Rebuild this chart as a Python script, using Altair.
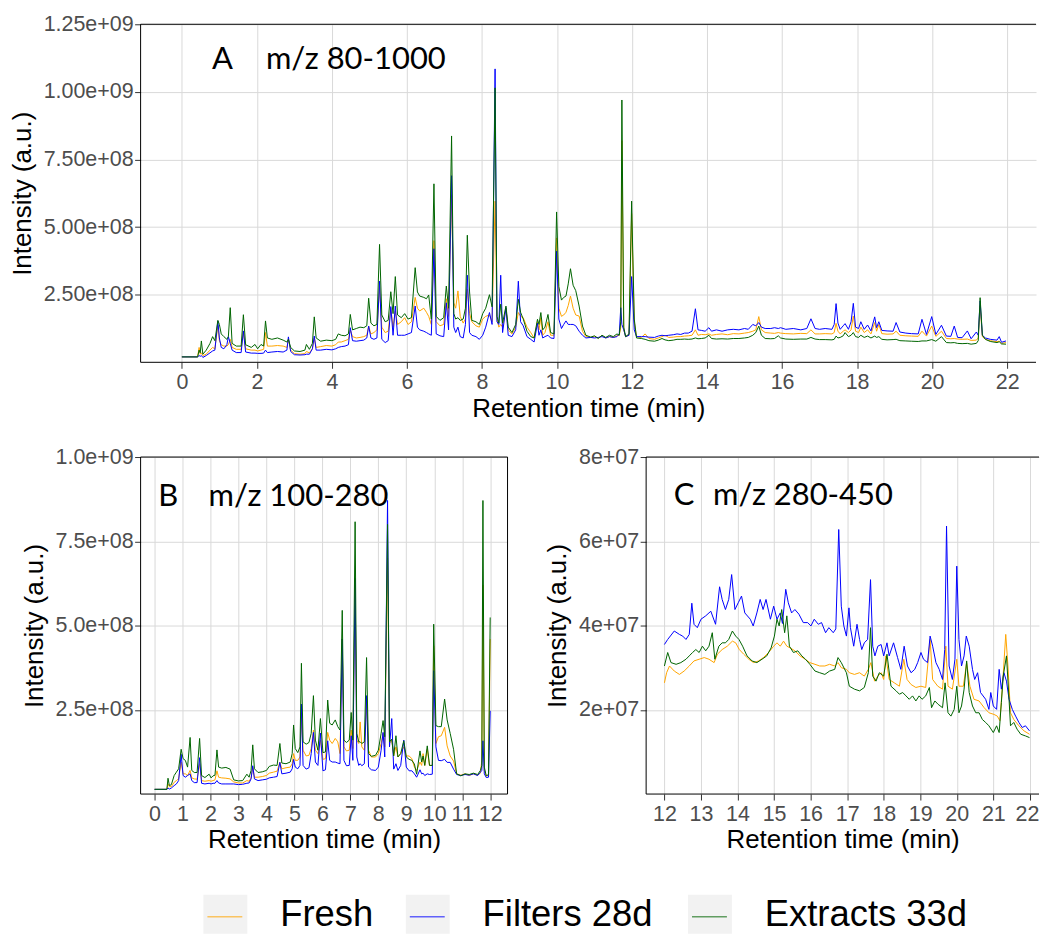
import altair as alt
import pandas as pd

SERIES = ["Fresh", "Filters 28d", "Extracts 33d"]
SERIES_COLORS = ["#FFA500", "#0000FF", "#006400"]

# ---------------------------------------------------------------------------
# Panel A: m/z 80-1000, retention time (min) and intensity (x 1e8)
# ---------------------------------------------------------------------------
a_time = [
    0.00, 0.42, 0.46, 0.49, 0.52, 0.56, 0.65, 0.75, 0.82, 0.88,
    0.96, 1.00, 1.05, 1.12, 1.20, 1.24, 1.29, 1.34, 1.45, 1.58,
    1.64, 1.70, 1.85, 1.95, 2.02, 2.11, 2.18, 2.23, 2.28, 2.40,
    2.55, 2.70, 2.80, 2.84, 2.90, 3.00, 3.15, 3.28, 3.32, 3.40,
    3.48, 3.53, 3.58, 3.70, 3.85, 4.00, 4.10, 4.17, 4.25, 4.35,
    4.44, 4.49, 4.55, 4.65, 4.75, 4.85, 4.93, 4.98, 5.04, 5.12,
    5.20, 5.27, 5.33, 5.42, 5.50, 5.57, 5.63, 5.69, 5.75, 5.85,
    5.94, 6.03, 6.12, 6.22, 6.28, 6.34, 6.45, 6.52, 6.58, 6.65,
    6.72, 6.78, 6.88, 6.98, 7.05, 7.11, 7.19, 7.25, 7.30, 7.36,
    7.42, 7.50, 7.56, 7.61, 7.67, 7.73, 7.84, 7.93, 8.02, 8.10,
    8.20, 8.27, 8.35, 8.40, 8.45, 8.50, 8.55, 8.64, 8.70, 8.80,
    8.90, 8.97, 9.03, 9.10, 9.20, 9.30, 9.39, 9.48, 9.52, 9.57,
    9.62, 9.68, 9.76, 9.83, 9.92, 9.99, 10.05, 10.12, 10.18, 10.24,
    10.30, 10.36, 10.43, 10.50, 10.59, 10.68, 10.77, 10.90, 11.00, 11.10,
    11.20, 11.30, 11.40, 11.50, 11.60, 11.66, 11.70, 11.73, 11.78, 11.83,
    11.92, 11.99, 12.06, 12.12, 12.25, 12.35, 12.45, 12.60, 12.70, 12.80,
    12.88, 12.98, 13.10, 13.20, 13.30, 13.40, 13.50, 13.60, 13.69, 13.76,
    13.85, 13.95, 14.05, 14.12, 14.25, 14.40, 14.55, 14.70, 14.85, 15.00,
    15.10, 15.22, 15.30, 15.38, 15.45, 15.55, 15.70, 15.80, 15.90, 15.96,
    16.10, 16.30, 16.50, 16.66, 16.77, 16.88, 17.00, 17.15, 17.33, 17.39,
    17.44, 17.49, 17.55, 17.63, 17.68, 17.77, 17.84, 17.90, 17.96, 18.04,
    18.10, 18.19, 18.28, 18.37, 18.47, 18.52, 18.58, 18.66, 18.80, 18.96,
    19.04, 19.14, 19.30, 19.45, 19.63, 19.73, 19.85, 19.99, 20.10, 20.25,
    20.38, 20.50, 20.59, 20.68, 20.80, 20.94, 21.04, 21.18, 21.23, 21.28,
    21.34, 21.42, 21.55, 21.73, 21.79, 21.85, 21.97,
]
a_fresh = [
    0.20, 0.20, 0.55, 0.30, 0.35, 0.25, 0.30, 0.45, 0.55, 0.50,
    1.35, 0.80, 0.65, 0.60, 0.60, 0.65, 0.85, 0.55, 0.48, 0.48,
    1.15, 0.50, 0.45, 0.45, 0.42, 0.45, 0.48, 1.10, 0.60, 0.60,
    0.62, 0.60, 0.55, 0.85, 0.45, 0.32, 0.30, 0.32, 0.40, 0.35,
    0.50, 0.90, 0.55, 0.58, 0.62, 0.60, 0.65, 0.75, 0.75, 0.80,
    0.85, 1.20, 0.95, 0.90, 0.92, 0.95, 1.00, 1.34, 1.05, 1.10,
    1.20, 2.80, 1.30, 1.10, 1.15, 2.00, 1.30, 1.90, 1.40, 1.50,
    1.65, 1.40, 1.50, 2.40, 2.00, 1.90, 2.00, 1.85, 1.70, 1.40,
    4.50, 1.50, 1.35, 1.40, 2.35, 1.70, 6.20, 2.20, 2.00, 2.64,
    1.70, 1.45, 1.60, 2.70, 1.80, 1.50, 1.35, 1.30, 1.60, 1.70,
    1.75, 1.50, 5.96, 1.60, 1.30, 1.40, 1.30, 2.00, 1.20, 1.05,
    1.30, 1.84, 1.70, 1.65, 1.30, 1.10, 0.90, 1.50, 1.20, 1.65,
    1.00, 1.10, 1.50, 1.00, 1.00, 4.60, 2.00, 1.70, 1.75, 1.85,
    2.10, 2.45, 2.00, 1.75, 1.71, 1.15, 0.95, 0.92, 0.95, 0.90,
    0.98, 0.90, 0.95, 0.92, 0.98, 1.00, 1.30, 8.20, 1.20, 0.95,
    1.00, 5.50, 1.50, 0.95, 0.92, 1.05, 0.88, 0.85, 0.90, 0.95,
    1.00, 0.92, 0.93, 0.95, 0.95, 0.97, 0.98, 1.00, 1.20, 1.00,
    1.03, 1.02, 1.05, 1.00, 1.03, 1.05, 1.02, 1.06, 1.05, 1.08,
    1.10, 1.15, 1.20, 1.69, 1.20, 1.10, 1.08, 1.07, 1.10, 1.08,
    1.06, 1.05, 1.07, 1.06, 1.20, 1.05, 1.05, 1.06, 1.05, 1.10,
    1.44, 1.15, 1.05, 1.15, 1.20, 1.10, 1.20, 1.71, 1.15, 1.10,
    1.30, 1.10, 1.20, 1.05, 1.47, 1.15, 1.40, 1.06, 1.04, 1.05,
    1.15, 1.00, 0.98, 0.97, 0.96, 1.15, 0.97, 1.34, 0.96, 1.15,
    0.88, 0.87, 0.88, 0.86, 0.85, 0.86, 0.81, 0.82, 0.90, 2.10,
    0.95, 0.85, 0.80, 0.76, 0.78, 0.70, 0.73,
]
a_filters = [
    0.20, 0.20, 0.25, 0.22, 0.25, 0.18, 0.25, 0.35, 0.42, 0.45,
    1.53, 0.90, 0.55, 0.50, 0.65, 0.95, 0.70, 0.45, 0.36, 0.36,
    1.16, 0.38, 0.34, 0.34, 0.33, 0.33, 0.34, 0.45, 0.36, 0.38,
    0.40, 0.38, 0.45, 0.94, 0.40, 0.28, 0.27, 0.28, 0.30, 0.30,
    0.50, 0.97, 0.45, 0.45, 0.48, 0.46, 0.50, 0.55, 0.58, 0.60,
    0.65, 1.28, 0.80, 0.78, 0.80, 0.82, 0.90, 1.34, 0.90, 0.85,
    0.90, 3.00, 0.85, 0.73, 0.80, 2.06, 1.00, 2.08, 1.00, 1.00,
    1.00, 1.05, 1.10, 2.08, 1.30, 1.20, 1.15, 1.10, 1.05, 1.00,
    4.20, 1.05, 0.98, 0.95, 2.20, 1.20, 6.90, 1.30, 1.10, 1.30,
    0.95, 0.90, 1.40, 3.22, 1.10, 1.00, 0.95, 0.85, 1.00, 1.30,
    1.84, 1.40, 10.85, 1.50, 1.40, 3.22, 1.10, 2.02, 1.00, 0.95,
    1.20, 3.00, 1.50, 1.35, 0.95, 0.85, 0.75, 1.45, 1.00, 1.20,
    0.90, 0.95, 1.00, 0.90, 0.88, 4.11, 1.60, 1.25, 1.40, 1.53,
    1.40, 1.40, 1.40, 1.35, 1.15, 1.00, 0.90, 0.92, 0.90, 0.92,
    0.95, 0.90, 0.95, 0.92, 0.95, 1.05, 2.02, 1.40, 1.20, 0.95,
    1.00, 3.17, 1.20, 0.95, 0.95, 0.95, 0.93, 0.92, 0.97, 1.00,
    0.98, 1.00, 1.02, 1.05, 1.03, 1.08, 1.08, 1.15, 1.98, 1.20,
    1.18, 1.15, 1.28, 1.15, 1.20, 1.15, 1.20, 1.22, 1.20, 1.25,
    1.22, 1.40, 1.35, 1.47, 1.30, 1.25, 1.25, 1.28, 1.25, 1.28,
    1.22, 1.25, 1.20, 1.25, 1.61, 1.25, 1.22, 1.25, 1.22, 1.40,
    2.17, 1.45, 1.22, 1.35, 1.43, 1.22, 1.50, 2.18, 1.30, 1.25,
    1.50, 1.22, 1.38, 1.16, 1.68, 1.28, 1.50, 1.18, 1.16, 1.15,
    1.47, 1.12, 1.08, 1.06, 1.05, 1.59, 1.03, 1.69, 1.03, 1.37,
    0.97, 0.96, 1.34, 0.92, 0.91, 1.16, 0.87, 1.12, 1.00, 2.27,
    1.00, 0.90, 0.85, 0.82, 0.95, 0.74, 0.79,
]
a_extracts = [
    0.20, 0.20, 0.45, 0.35, 0.79, 0.30, 0.45, 0.70, 0.95, 0.80,
    1.55, 1.40, 1.05, 0.95, 0.85, 0.95, 2.02, 0.70, 0.60, 0.60,
    1.76, 0.65, 0.55, 0.66, 0.50, 0.66, 0.60, 1.53, 0.90, 0.85,
    0.90, 0.82, 0.75, 0.85, 0.55, 0.42, 0.40, 0.45, 0.66, 0.48,
    0.70, 1.68, 0.90, 0.78, 0.82, 0.80, 0.85, 1.05, 1.00, 0.98,
    1.05, 1.77, 1.20, 1.25, 1.30, 1.28, 1.35, 2.37, 1.45, 1.35,
    1.40, 4.36, 1.75, 1.50, 1.55, 2.61, 1.80, 3.17, 1.75, 1.65,
    1.80, 1.60, 1.65, 3.50, 2.60, 2.45, 2.40, 2.35, 2.49, 1.60,
    6.60, 1.70, 1.55, 1.65, 2.82, 2.00, 8.37, 1.80, 1.60, 1.65,
    1.55, 1.60, 2.00, 4.70, 2.60, 1.55, 1.50, 1.40, 1.80, 2.00,
    2.50, 2.05, 10.15, 1.70, 1.45, 2.15, 1.45, 2.08, 1.30, 1.10,
    1.40, 2.33, 1.85, 1.60, 1.15, 0.95, 0.90, 1.59, 1.40, 1.84,
    1.20, 1.30, 1.77, 1.10, 1.05, 5.56, 2.80, 2.30, 2.40, 2.45,
    2.90, 3.46, 2.85, 2.65, 2.08, 1.34, 1.00, 0.93, 0.98, 0.88,
    1.00, 0.92, 1.00, 0.95, 1.05, 1.00, 1.50, 9.70, 1.30, 0.95,
    1.05, 5.96, 1.60, 0.90, 0.88, 0.85, 0.80, 0.78, 0.82, 0.88,
    0.83, 0.80, 0.82, 0.85, 0.85, 0.86, 0.85, 0.86, 0.90, 0.87,
    0.88, 0.90, 1.00, 0.88, 0.86, 0.87, 0.86, 0.88, 0.88, 0.90,
    0.92, 1.00, 1.10, 1.34, 1.00, 0.88, 0.87, 0.88, 0.98, 0.90,
    0.86, 0.85, 0.86, 0.86, 0.92, 0.86, 0.84, 0.84, 0.83, 0.85,
    0.97, 0.90, 0.92, 0.98, 1.10, 0.95, 1.00, 1.10, 0.95, 0.92,
    1.00, 0.92, 0.97, 0.90, 0.97, 0.92, 0.95, 0.85, 0.83, 0.84,
    0.85, 0.80, 0.79, 0.78, 0.77, 0.79, 0.79, 0.84, 0.78, 0.95,
    0.73, 0.72, 0.73, 0.70, 0.69, 0.70, 0.67, 0.70, 0.80, 2.39,
    1.00, 0.85, 0.77, 0.73, 0.76, 0.68, 0.67,
]

# ---------------------------------------------------------------------------
# Panel B: m/z 100-280, retention time (min) and intensity (x 1e8)
# ---------------------------------------------------------------------------
b_time = [
    0.00, 0.44, 0.48, 0.53, 0.60, 0.70, 0.78, 0.86, 0.95, 1.02,
    1.10, 1.18, 1.27, 1.33, 1.42, 1.52, 1.61, 1.68, 1.80, 1.95,
    2.02, 2.09, 2.16, 2.23, 2.29, 2.40, 2.55, 2.70, 2.83, 3.00,
    3.15, 3.30, 3.38, 3.45, 3.51, 3.57, 3.70, 3.85, 4.00, 4.10,
    4.25, 4.38, 4.48, 4.55, 4.70, 4.85, 4.92, 4.97, 5.03, 5.12,
    5.20, 5.25, 5.31, 5.42, 5.52, 5.60, 5.68, 5.75, 5.84, 5.93,
    6.02, 6.11, 6.19, 6.26, 6.35, 6.46, 6.55, 6.63, 6.71, 6.77,
    6.86, 6.96, 7.03, 7.09, 7.17, 7.23, 7.30, 7.35, 7.41, 7.50,
    7.58, 7.65, 7.75, 7.90, 8.00, 8.10, 8.17, 8.23, 8.33, 8.40,
    8.48, 8.55, 8.63, 8.70, 8.80, 8.91, 9.00, 9.10, 9.20, 9.29,
    9.37, 9.49, 9.55, 9.60, 9.66, 9.75, 9.83, 9.93, 9.98, 10.06,
    10.15, 10.25, 10.37, 10.46, 10.57, 10.69, 10.80, 10.95, 11.10, 11.25,
    11.40, 11.55, 11.65, 11.70, 11.74, 11.79, 11.86, 11.94, 12.00,
]
b_fresh = [
    0.14, 0.14, 0.30, 0.22, 0.22, 0.35, 0.40, 0.45, 0.95, 0.60,
    0.60, 0.55, 0.70, 0.48, 0.45, 0.44, 0.90, 0.40, 0.38, 0.40,
    0.38, 0.40, 0.42, 0.69, 0.50, 0.48, 0.47, 0.45, 0.36, 0.33,
    0.33, 0.40, 0.38, 0.48, 0.80, 0.50, 0.50, 0.52, 0.55, 0.62,
    0.65, 0.68, 0.95, 0.75, 0.78, 0.80, 0.90, 1.20, 1.00, 1.00,
    1.10, 2.40, 1.30, 1.13, 1.15, 1.35, 1.90, 1.30, 1.20, 1.60,
    1.03, 1.05, 1.83, 1.60, 1.50, 1.65, 1.55, 1.20, 4.60, 1.40,
    1.28, 1.30, 1.90, 1.35, 6.20, 1.60, 1.50, 2.14, 1.40, 1.30,
    2.90, 1.30, 1.10, 1.10, 1.20, 1.50, 1.80, 1.40, 7.00, 1.50,
    1.60, 1.15, 1.40, 1.10, 1.20, 1.40, 1.13, 1.13, 1.05, 0.80,
    0.70, 0.95, 0.85, 1.20, 0.85, 1.33, 0.85, 0.85, 4.40, 1.50,
    1.70, 1.73, 1.98, 1.43, 1.13, 0.98, 0.60, 0.56, 0.60, 0.55,
    0.60, 0.56, 0.62, 1.00, 6.20, 0.70, 0.54, 0.55, 4.60,
]
b_filters = [
    0.14, 0.14, 0.18, 0.15, 0.18, 0.25, 0.30, 0.40, 1.18, 0.55,
    0.50, 0.55, 0.60, 0.40, 0.34, 0.34, 1.08, 0.32, 0.30, 0.32,
    0.30, 0.32, 0.32, 0.40, 0.33, 0.30, 0.30, 0.30, 0.30, 0.28,
    0.29, 0.32, 0.33, 0.45, 0.84, 0.45, 0.40, 0.42, 0.44, 0.48,
    0.50, 0.52, 0.94, 0.60, 0.62, 0.65, 0.75, 1.03, 0.80, 0.75,
    0.85, 2.67, 0.85, 0.74, 0.78, 1.20, 1.83, 0.95, 0.85, 1.81,
    0.69, 0.72, 1.58, 1.00, 0.95, 0.95, 0.92, 0.90, 4.60, 1.00,
    0.84, 0.85, 1.73, 1.00, 6.40, 1.10, 0.85, 0.90, 0.84, 0.90,
    2.92, 0.80, 0.72, 0.70, 0.80, 1.30, 1.83, 1.10, 8.71, 1.40,
    2.24, 0.74, 0.90, 0.70, 0.85, 1.60, 0.80, 0.69, 0.69, 0.60,
    0.50, 0.72, 0.60, 0.62, 0.55, 0.60, 0.58, 0.59, 3.66, 1.40,
    1.00, 0.99, 1.03, 0.94, 0.94, 0.74, 0.58, 0.55, 0.58, 0.56,
    0.60, 0.55, 0.65, 0.70, 1.58, 0.60, 0.49, 0.50, 2.47,
]
b_extracts = [
    0.14, 0.14, 0.47, 0.25, 0.28, 0.55, 0.65, 0.75, 1.33, 1.05,
    1.00, 0.80, 1.68, 0.70, 0.64, 0.64, 1.65, 0.55, 0.49, 0.59,
    0.48, 0.54, 0.56, 1.31, 0.80, 0.77, 0.79, 0.74, 0.42, 0.39,
    0.40, 0.59, 0.50, 0.70, 1.46, 0.75, 0.64, 0.66, 0.70, 0.82,
    0.86, 0.85, 1.50, 0.92, 0.90, 0.95, 1.20, 2.05, 1.35, 1.23,
    1.40, 3.88, 1.55, 1.48, 1.53, 1.80, 2.92, 1.60, 1.30, 2.24,
    1.23, 1.25, 2.79, 2.10, 2.05, 2.20, 2.00, 1.90, 5.45, 1.60,
    1.53, 1.60, 2.42, 1.60, 8.08, 1.80, 1.55, 1.55, 1.50, 1.55,
    4.05, 1.20, 1.12, 1.15, 1.30, 1.80, 2.18, 1.70, 8.00, 1.55,
    1.63, 1.13, 1.73, 1.10, 1.20, 1.58, 1.10, 1.03, 1.00, 0.89,
    0.59, 1.28, 0.95, 1.13, 0.85, 1.43, 0.85, 0.85, 5.04, 2.03,
    2.00, 2.00, 2.82, 2.20, 1.80, 1.33, 0.60, 0.54, 0.60, 0.58,
    0.62, 0.58, 0.70, 0.85, 8.71, 0.80, 0.54, 0.58, 5.24,
]

# ---------------------------------------------------------------------------
# Panel C: m/z 280-450, retention time (min) and intensity (x 1e7)
# ---------------------------------------------------------------------------
c_fresh_time = [
    12.00, 12.06, 12.14, 12.27, 12.41, 12.54, 12.68, 12.81, 12.95, 13.09,
    13.22, 13.36, 13.45, 13.58, 13.72, 13.86, 13.95, 14.05, 14.17, 14.31,
    14.44, 14.58, 14.71, 14.85, 14.99, 15.08, 15.17, 15.26, 15.35, 15.44,
    15.57, 15.71, 15.85, 15.98, 16.12, 16.25, 16.39, 16.52, 16.66, 16.75,
    16.84, 16.98, 17.06, 17.20, 17.34, 17.47, 17.58, 17.65, 17.75, 17.84,
    17.93, 18.00, 18.06, 18.15, 18.29, 18.43, 18.55, 18.64, 18.75, 18.88,
    19.02, 19.15, 19.27, 19.34, 19.48, 19.61, 19.70, 19.76, 19.88, 20.00,
    20.06, 20.18, 20.27, 20.36, 20.47, 20.61, 20.75, 20.88, 21.02, 21.11,
    21.18, 21.25, 21.34, 21.40, 21.47, 21.56, 21.70, 21.84, 21.99,
]
c_fresh = [
    2.64, 2.88, 3.04, 2.92, 2.84, 2.92, 3.04, 3.16, 3.20, 3.24,
    3.20, 3.12, 3.32, 3.43, 3.51, 3.63, 3.59, 3.43, 3.32, 3.20,
    3.12, 3.16, 3.24, 3.36, 3.51, 3.59, 3.51, 3.63, 3.51, 3.47,
    3.40, 3.28, 3.20, 3.12, 3.08, 3.04, 3.04, 3.08, 3.04, 3.12,
    3.00, 2.96, 2.88, 2.84, 2.88, 2.80, 2.96, 3.12, 2.68, 2.80,
    2.88, 2.72, 3.28, 2.72, 2.64, 2.56, 3.20, 2.72, 2.60, 2.53,
    2.56, 2.53, 3.67, 2.72, 2.56, 2.49, 3.51, 2.56, 2.49, 3.20,
    2.56, 2.56, 3.12, 2.56, 2.25, 2.21, 2.05, 1.93, 1.89, 1.85,
    1.74, 2.56, 3.79, 3.04, 1.93, 1.77, 1.62, 1.50, 1.42,
]
c_filters_time = [
    12.00, 12.09, 12.27, 12.41, 12.50, 12.59, 12.68, 12.75, 12.81, 12.90,
    13.00, 13.13, 13.27, 13.40, 13.51, 13.58, 13.67, 13.76, 13.84, 13.93,
    14.02, 14.11, 14.20, 14.35, 14.43, 14.53, 14.62, 14.70, 14.78, 14.90,
    14.99, 15.08, 15.17, 15.23, 15.32, 15.39, 15.48, 15.57, 15.68, 15.80,
    15.92, 16.01, 16.10, 16.21, 16.30, 16.41, 16.50, 16.62, 16.69, 16.77,
    16.84, 16.91, 16.98, 17.05, 17.09, 17.18, 17.27, 17.34, 17.40, 17.47,
    17.56, 17.64, 17.70, 17.76, 17.84, 17.93, 18.00, 18.09, 18.15, 18.27,
    18.38, 18.47, 18.56, 18.65, 18.75, 18.85, 18.93, 19.02, 19.09, 19.20,
    19.27, 19.34, 19.43, 19.52, 19.61, 19.67, 19.72, 19.79, 19.88, 19.95,
    20.00, 20.06, 20.13, 20.20, 20.26, 20.34, 20.43, 20.49, 20.57, 20.65,
    20.79, 20.88, 20.93, 21.00, 21.09, 21.16, 21.22, 21.29, 21.36, 21.43,
    21.52, 21.61, 21.70, 21.79, 21.88, 21.99,
]
c_filters = [
    3.55, 3.67, 3.87, 3.79, 3.75, 3.67, 3.79, 4.53, 4.03, 3.95,
    4.15, 4.23, 4.34, 4.03, 4.92, 4.62, 4.38, 4.62, 5.21, 4.38,
    4.54, 4.70, 4.30, 4.15, 3.99, 4.30, 4.62, 4.38, 4.62, 4.15,
    4.46, 4.15, 4.30, 4.05, 4.86, 4.54, 4.30, 4.38, 4.27, 4.07,
    4.07, 3.99, 4.15, 4.03, 4.07, 3.83, 3.95, 3.83, 3.92, 6.28,
    4.46, 3.99, 3.75, 4.42, 3.95, 3.51, 4.03, 3.67, 3.43, 3.59,
    3.67, 5.09, 3.51, 3.28, 3.51, 3.55, 3.28, 3.59, 3.28, 3.59,
    3.24, 2.96, 3.51, 3.04, 2.88, 2.96, 3.12, 3.36, 3.20, 3.12,
    3.75, 3.51, 3.12, 2.96, 2.72, 3.43, 6.36, 3.04, 2.72, 3.20,
    5.41, 3.67, 3.04, 3.28, 3.75, 3.51, 2.96, 2.72, 2.88, 2.41,
    2.25, 2.01, 2.41, 2.09, 2.01, 2.96, 2.49, 2.88, 2.68, 2.25,
    2.01, 1.85, 1.70, 1.58, 1.62, 1.50,
]
c_extracts_time = [
    12.00, 12.09, 12.18, 12.32, 12.45, 12.59, 12.68, 12.77, 12.86, 12.95,
    13.04, 13.13, 13.22, 13.31, 13.38, 13.49, 13.58, 13.67, 13.76, 13.86,
    13.95, 14.04, 14.14, 14.26, 14.40, 14.53, 14.67, 14.80, 14.92, 15.01,
    15.08, 15.14, 15.21, 15.29, 15.35, 15.42, 15.53, 15.65, 15.76, 15.86,
    15.98, 16.12, 16.25, 16.39, 16.52, 16.66, 16.75, 16.84, 16.98, 17.06,
    17.20, 17.34, 17.47, 17.58, 17.64, 17.70, 17.79, 17.88, 18.00, 18.09,
    18.20, 18.34, 18.43, 18.52, 18.61, 18.70, 18.79, 18.88, 18.97, 19.05,
    19.15, 19.25, 19.31, 19.40, 19.49, 19.61, 19.68, 19.76, 19.84, 19.93,
    20.00, 20.06, 20.13, 20.20, 20.27, 20.34, 20.43, 20.52, 20.61, 20.70,
    20.79, 20.88, 21.00, 21.09, 21.16, 21.22, 21.27, 21.36, 21.43, 21.47,
    21.56, 21.65, 21.75, 21.88, 21.99,
]
c_extracts = [
    3.04, 3.36, 3.12, 3.08, 3.12, 3.20, 3.28, 3.36, 3.43, 3.36,
    3.51, 3.40, 3.51, 3.83, 3.20, 3.51, 3.59, 3.59, 3.67, 3.87,
    3.75, 3.67, 3.51, 3.28, 3.16, 3.12, 3.20, 3.28, 3.47, 3.75,
    4.15, 3.99, 4.38, 3.83, 4.23, 3.51, 3.36, 3.40, 3.28, 3.20,
    3.08, 2.92, 2.88, 2.84, 2.92, 2.96, 3.24, 3.12, 2.88, 2.56,
    2.49, 2.45, 2.53, 2.88, 3.95, 2.80, 2.68, 2.88, 2.80, 3.32,
    2.56, 2.45, 2.37, 2.41, 2.33, 2.25, 2.33, 2.21, 2.33, 2.25,
    2.33, 2.53, 2.05, 2.21, 2.13, 2.05, 2.64, 1.93, 1.85, 2.01,
    2.56, 1.93, 2.09, 2.49, 3.16, 2.41, 2.09, 1.93, 1.93, 1.77,
    1.70, 1.62, 1.46, 1.62, 1.46, 2.17, 2.80, 3.28, 2.25, 1.62,
    1.70, 1.54, 1.42, 1.38, 1.34,
]

# Panel captions: letter, m/z window, and where they sit (time, intensity)
note_letters = ["A", "B", "C"]
note_ranges = ["m/z 80-1000", "m/z 100-280", "m/z 280-450"]
note_letter_time = [1.08, 0.49, 12.54]
note_range_time = [2.24, 1.93, 13.33]
note_level = [10.85e8, 8.54e8, 6.85e7]

AXIS_FONT = "Liberation Sans"
NOTE_FONT = "Lato"
COLOR = alt.Scale(domain=SERIES, range=SERIES_COLORS)


def to_long(columns, unit):
    frames = []
    for name, times, values in columns:
        if len(times) != len(values):
            raise ValueError(f"{name}: {len(times)} times vs {len(values)} values")
        frames.append(pd.DataFrame({
            "series": name,
            "time": times,
            "intensity": [v * unit for v in values],
        }))
    return pd.concat(frames, ignore_index=True)


table_a = to_long([("Fresh", a_time, a_fresh),
                   ("Filters 28d", a_time, a_filters),
                   ("Extracts 33d", a_time, a_extracts)], 1e8)
table_b = to_long([("Fresh", b_time, b_fresh),
                   ("Filters 28d", b_time, b_filters),
                   ("Extracts 33d", b_time, b_extracts)], 1e8)
table_c = to_long([("Fresh", c_fresh_time, c_fresh),
                   ("Filters 28d", c_filters_time, c_filters),
                   ("Extracts 33d", c_extracts_time, c_extracts)], 1e7)


def frame(width, height, sides):
    """Black panel border drawn as rules along the requested sides."""
    edges = {
        "top": dict(x=alt.value(0), x2=alt.value(width), y=alt.value(0)),
        "bottom": dict(x=alt.value(0), x2=alt.value(width), y=alt.value(height)),
        "left": dict(x=alt.value(0), y=alt.value(0), y2=alt.value(height)),
        "right": dict(x=alt.value(width), y=alt.value(0), y2=alt.value(height)),
    }
    return [
        alt.Chart(pd.DataFrame({"edge": [side]}))
        .mark_rule(color="black", strokeWidth=1)
        .encode(**edges[side])
        for side in sides
    ]


def panel(table, idx, width, height, x_domain, x_ticks, y_domain, y_ticks, y_format,
          sides, x_axis_extra=None):
    x_axis = alt.Axis(values=x_ticks, format="d", **(x_axis_extra or {}))
    x = alt.X("time:Q", title="Retention time (min)",
              scale=alt.Scale(domain=x_domain, nice=False, zero=False), axis=x_axis)
    y = alt.Y("intensity:Q", title="Intensity (a.u.)",
              scale=alt.Scale(domain=y_domain, nice=False, zero=False),
              axis=alt.Axis(values=y_ticks,
                            labelExpr="replace(format(datum.value, '%s'), 'e+', 'e+0')" % y_format))
    traces = [
        alt.Chart(table[table["series"] == name])
        .mark_line(strokeWidth=1, strokeJoin="round")
        .encode(x=x, y=y, color=alt.Color("series:N", scale=COLOR, legend=None))
        for name in SERIES
    ]
    letter = alt.Chart(pd.DataFrame({
        "time": [note_letter_time[idx]], "intensity": [note_level[idx]],
        "label": [note_letters[idx]]})
    ).mark_text(font=NOTE_FONT, fontSize=31, align="center", baseline="alphabetic",
                color="black").encode(x=x, y=y, text="label:N")
    window = alt.Chart(pd.DataFrame({
        "time": [note_range_time[idx]], "intensity": [note_level[idx]],
        "label": [note_ranges[idx]]})
    ).mark_text(font=NOTE_FONT, fontSize=31, align="left", baseline="alphabetic",
                color="black").encode(x=x, y=y, text="label:N")
    return alt.layer(*traces, letter, window, *frame(width, height, sides)).properties(
        width=width, height=height)


panel_a = panel(table_a, 0, 898, 339, [-1.1, 22.77], list(range(0, 23, 2)),
                [0, 1.25e9], [2.5e8, 5e8, 7.5e8, 1e9, 1.25e9], ".2e",
                ["top", "bottom", "left"])
panel_b = panel(table_b, 1, 368, 338, [-0.5, 12.62], list(range(0, 13)),
                [0, 1e9], [2.5e8, 5e8, 7.5e8, 1e9], ".1e",
                ["top", "bottom", "left", "right"])
# the last time label of panel C sits against the right edge of the figure
panel_c = panel(table_c, 2, 394, 338, [11.5, 22.25], list(range(12, 23)),
                [0, 8e7], [2e7, 4e7, 6e7, 8e7], ".0e",
                ["top", "bottom", "left"],
                x_axis_extra={"labelFlush": 12, "labelFlushOffset": 9})

# Legend row: grey key box, short coloured stroke, label (pixel layout)
legend_layout = pd.DataFrame({
    "series": SERIES,
    "key_left": [63, 266, 549],
})
legend_layout["key_right"] = legend_layout["key_left"] + 44
legend_layout["line_left"] = legend_layout["key_left"] + 4
legend_layout["line_right"] = legend_layout["key_left"] + 39
legend_layout["label_left"] = legend_layout["key_left"] + 77

LEGEND_H = 39
legend_base = alt.Chart(legend_layout)
legend_keys = legend_base.mark_rect(fill="#F2F2F2").encode(
    x=alt.X("key_left:Q", scale=None, axis=None), x2="key_right:Q",
    y=alt.value(0), y2=alt.value(LEGEND_H))
legend_lines = legend_base.mark_rule(strokeWidth=1.5, opacity=0.6).encode(
    x=alt.X("line_left:Q", scale=None, axis=None), x2="line_right:Q",
    y=alt.value(22), color=alt.Color("series:N", scale=COLOR, legend=None))
legend_text = legend_base.mark_text(font=AXIS_FONT, fontSize=36.5, align="left",
                                    baseline="alphabetic", color="black").encode(
    x=alt.X("label_left:Q", scale=None, axis=None), y=alt.value(31), text="series:N")
legend = alt.layer(legend_keys, legend_lines, legend_text).properties(
    width=880, height=LEGEND_H)

chart = alt.vconcat(
    alt.vconcat(panel_a, alt.hconcat(panel_b, panel_c, spacing=35), spacing=23),
    legend,
    spacing=40,
).properties(
    padding={"left": 9, "top": 11, "right": 0, "bottom": 0},
).configure_view(
    stroke="transparent",
).configure_axis(
    labelFont=AXIS_FONT, labelFontSize=21.5, labelColor="#4D4D4D",
    titleFont=AXIS_FONT, titleFontSize=26, titleFontWeight="normal", titleColor="black",
    tickColor="#333333", tickSize=6, tickWidth=1, domain=False,
    grid=True, gridColor="#D9D9D9", gridWidth=1, labelOverlap=False, labelFlush=False,
).configure_axisY(
    labelPadding=1.5, titlePadding=7.7,
).configure_axisX(
    labelPadding=3.5, titlePadding=2,
)

chart.save("out.html", embed_options={"renderer": "svg", "actions": False})
